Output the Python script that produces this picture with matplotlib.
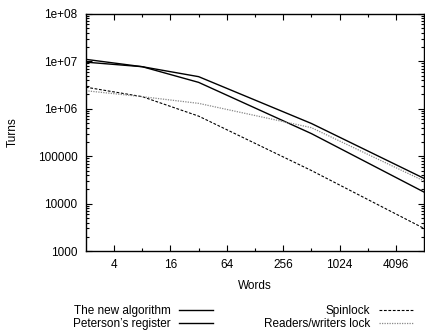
import matplotlib
matplotlib.use("Agg")
import matplotlib.pyplot as plt
import matplotlib.ticker as mticker
import numpy as np

# Data
words = [2, 8, 32, 512, 8192]
new_algorithm = [9.6e6, 7.7e6, 4.75e6, 4.9e5, 3.4e4]
peterson = [1.1e7, 7.7e6, 3.6e6, 3.0e5, 1.75e4]
spinlock = [2.85e6, 1.8e6, 7.0e5, 5.0e4, 3.0e3]
rw_lock = [2.4e6, 1.8e6, 1.3e6, 4.0e5, 3.0e4]

x_ticks = [4, 16, 64, 256, 1024, 4096]
y_ticks = [1e3, 1e4, 1e5, 1e6, 1e7, 1e8]
y_labels = ["1000", "10000", "100000", "1e+06", "1e+07", "1e+08"]

plt.rcParams["font.family"] = "Liberation Sans"
plt.rcParams["font.size"] = 8.5

fig = plt.figure(figsize=(4.25, 3.3), dpi=100)
ax = fig.add_axes([0.202, 0.239, 0.796, 0.719])

l1, = ax.plot(words, new_algorithm, color="black", lw=1.0, label="The new algorithm")
l2, = ax.plot(words, peterson, color="black", lw=1.0, label="Peterson\u2019s register")
l3, = ax.plot(words, spinlock, color="black", lw=0.8, ls=(0, (2.5, 1.5)), label="Spinlock")
l4, = ax.plot(words, rw_lock, color="#888888", lw=0.9, ls=(0, (1, 1)), label="Readers/writers lock")

ax.set_xscale("log", base=2)
ax.set_yscale("log")
ax.set_xlim(2, 8192)
ax.set_ylim(1e3, 1e8)

ax.set_xticks(x_ticks)
ax.set_xticklabels([str(t) for t in x_ticks])
ax.xaxis.set_minor_locator(mticker.FixedLocator([8, 32, 128, 512, 2048]))
ax.xaxis.set_minor_formatter(mticker.NullFormatter())
ax.set_yticks(y_ticks)
ax.set_yticklabels(y_labels)
ax.yaxis.set_minor_locator(mticker.LogLocator(base=10, subs=np.arange(2, 10)))
ax.yaxis.set_minor_formatter(mticker.NullFormatter())

ax.tick_params(which="both", direction="in", top=True, right=True, width=0.8)
ax.tick_params(which="major", length=4, pad=6)
ax.tick_params(which="minor", length=2)
for s in ax.spines.values():
    s.set_linewidth(1.0)

ax.set_xlabel("Words", labelpad=6)
ax.set_ylabel("Turns", labelpad=14)

leg_kw = dict(loc="lower right", frameon=False, markerfirst=False,
              handlelength=2.9, labelspacing=0.05, handletextpad=0.7,
              borderaxespad=0.0, borderpad=0.0)
leg1 = fig.legend([l1, l2], [l1.get_label(), l2.get_label()],
                  bbox_to_anchor=(213 / 425, 0.0), **leg_kw)
leg2 = fig.legend([l3, l4], [l3.get_label(), l4.get_label()],
                  bbox_to_anchor=(413 / 425, 0.0), **leg_kw)

fig.savefig("out.png", dpi=100)
